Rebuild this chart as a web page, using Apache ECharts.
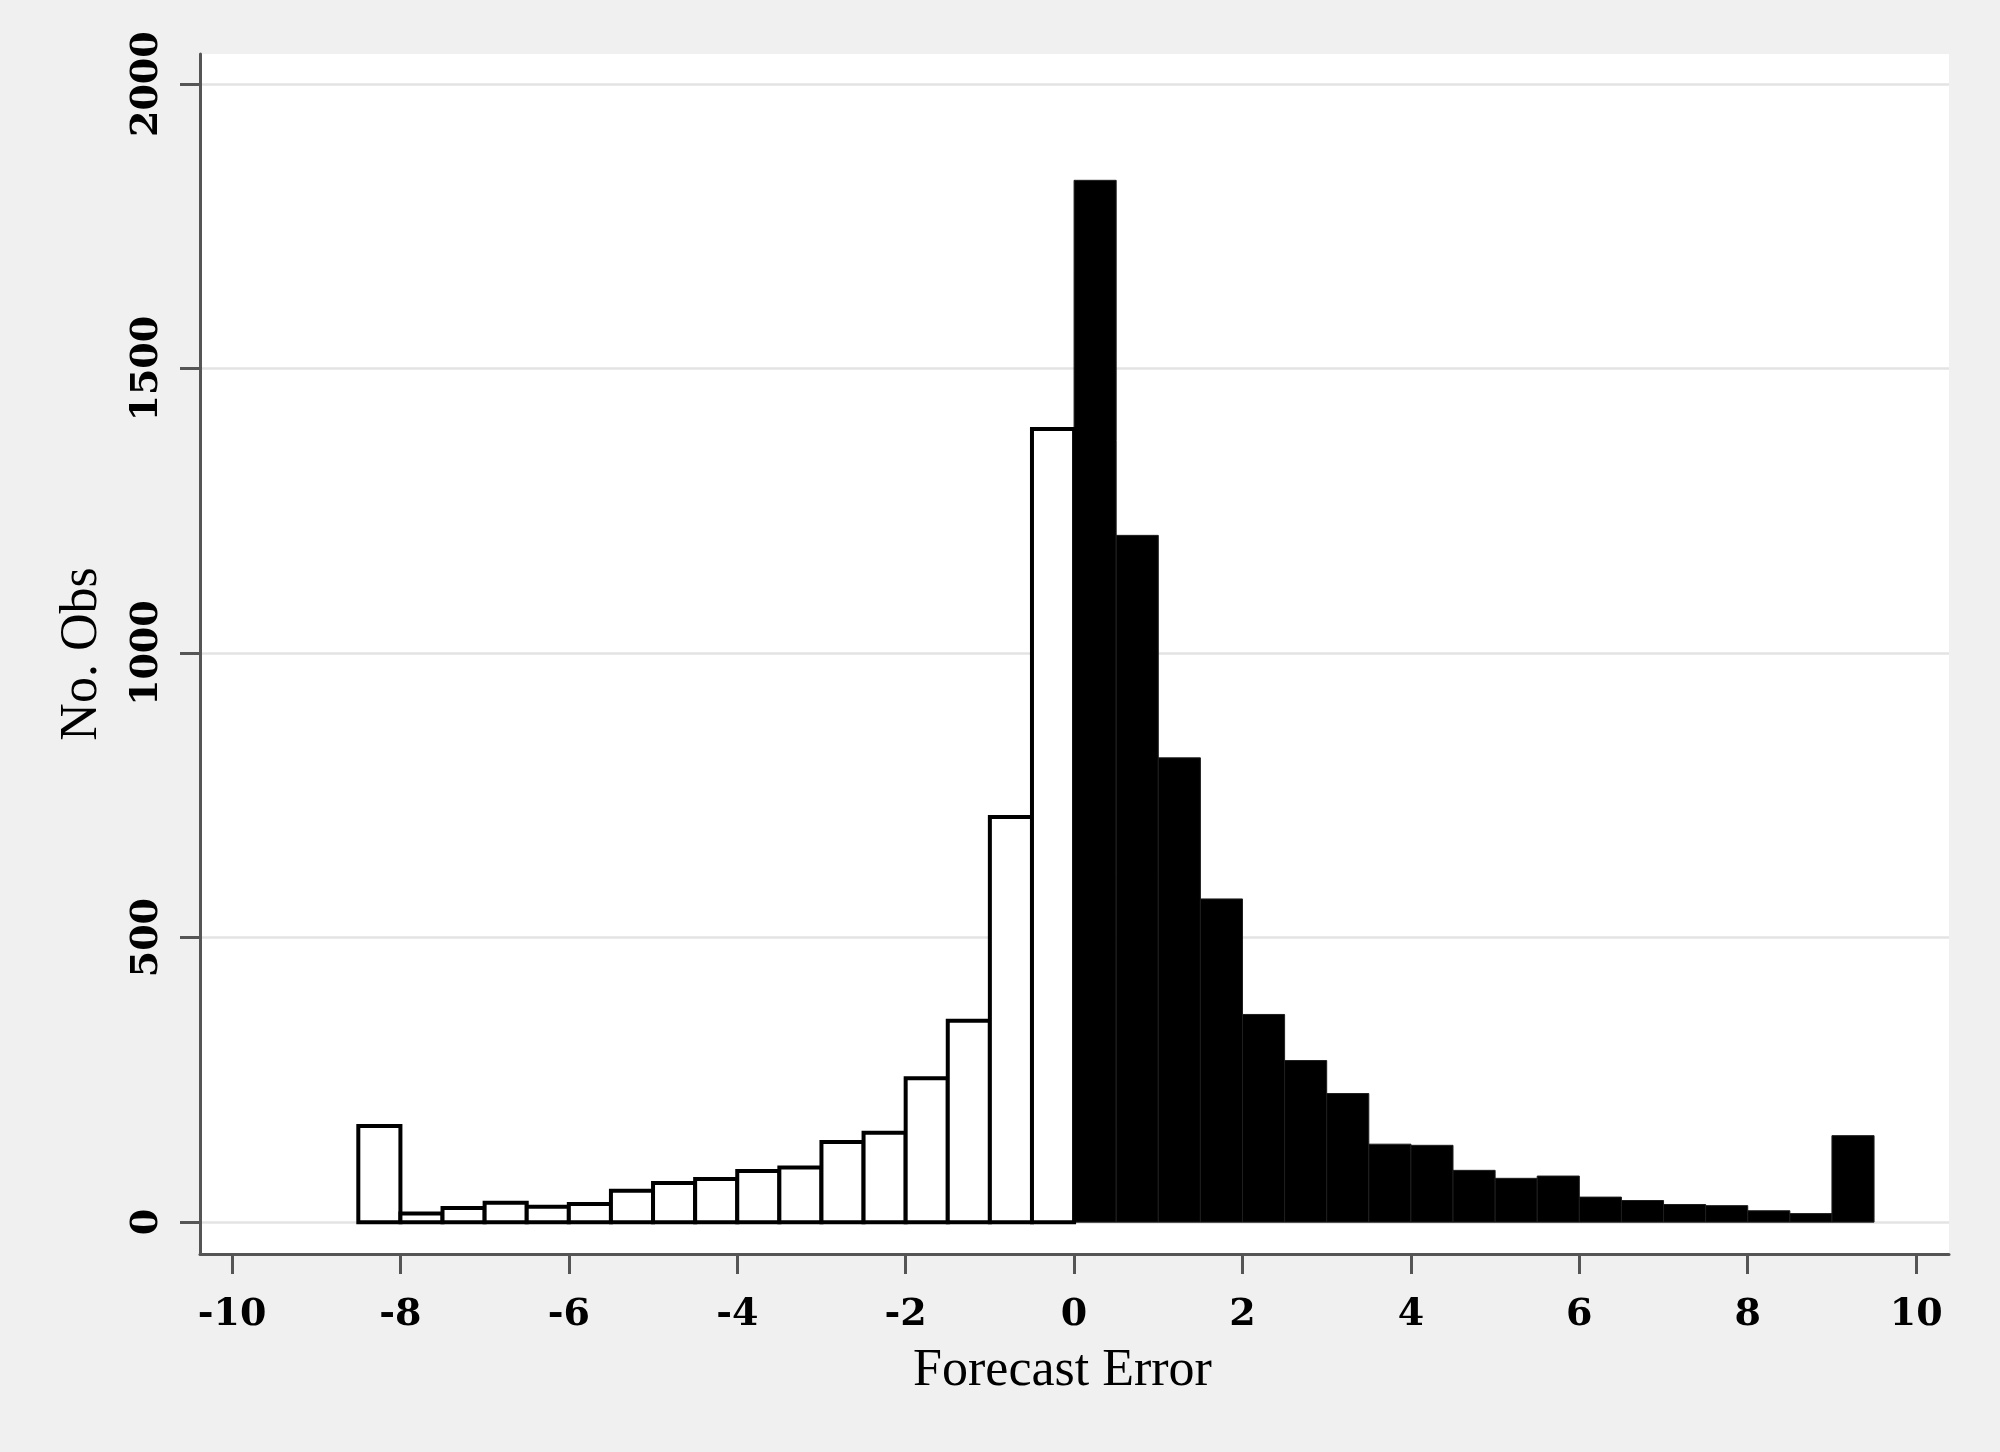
<!DOCTYPE html>
<html>
<head>
<meta charset="utf-8">
<script src="https://cdn.jsdelivr.net/npm/echarts@6/dist/echarts.min.js"></script>
<style>
html,body{margin:0;padding:0;background:#f0f0f0;}
#chart{width:2000px;height:1452px;}
</style>
</head>
<body>
<div id="chart"></div>
<script>
// Histogram bins (left edge, right edge) and counts
const negBinStart = [-8.5,-8,-7.5,-7,-6.5,-6,-5.5,-5,-4.5,-4,-3.5,-3,-2.5,-2,-1.5,-1,-0.5];
const negBinEnd   = [-8,-7.5,-7,-6.5,-6,-5.5,-5,-4.5,-4,-3.5,-3,-2.5,-2,-1.5,-1,-0.5,0];
const negCounts   = [169,15,25,34,27,32,55,69,76,90,96,141,157,253,354,712,1394];

const posBinStart = [0,0.5,1,1.5,2,2.5,3,3.5,4,4.5,5,5.5,6,6.5,7,7.5,8,8.5,9];
const posBinEnd   = [0.5,1,1.5,2,2.5,3,3.5,4,4.5,5,5.5,6,6.5,7,7.5,8,8.5,9,9.5];
const posCounts   = [1831,1207,816,568,365,284,226,137,135,91,77,81,44,38,31,29,20,15,152];

const xTicks = [-10,-8,-6,-4,-2,0,2,4,6,8,10];
const yTicks = [0,500,1000,1500,2000];

const xTitle = 'Forecast Error';
const yTitle = 'No. Obs';

function makeData(starts, ends, counts) {
  return starts.map((s, i) => [s, ends[i], counts[i]]);
}

function barRenderer(fill, stroke, lw) {
  return function (params, api) {
    const x0 = api.value(0), x1 = api.value(1), v = api.value(2);
    const pTop = api.coord([x0, v]);
    const pBot = api.coord([x1, 0]);
    return {
      type: 'rect',
      shape: { x: pTop[0], y: pTop[1], width: pBot[0] - pTop[0], height: pBot[1] - pTop[1] },
      style: { fill: fill, stroke: stroke, lineWidth: lw }
    };
  };
}

const chart = echarts.init(document.getElementById('chart'), null, { renderer: 'canvas' });
const axisColor = '#555555';
const labelFont = 'DejaVu Serif';
const titleFont = 'Liberation Serif';

chart.setOption({
  backgroundColor: '#f0f0f0',
  animation: false,
  grid: {
    left: 200, right: 51, top: 54, bottom: 198,
    show: true, backgroundColor: '#ffffff', borderWidth: 0
  },
  xAxis: {
    type: 'value',
    min: -10.38, max: 10.39,
    axisLine: { show: true, onZero: false, lineStyle: { color: axisColor, width: 3 } },
    axisTick: { show: true, length: 20, lineStyle: { color: axisColor, width: 3 }, customValues: xTicks },
    axisLabel: {
      customValues: xTicks, margin: 42,
      fontFamily: labelFont, fontWeight: 'bold', fontSize: 38, color: '#000',
      formatter: v => String(v)
    },
    splitLine: { show: false },
    name: xTitle, nameLocation: 'middle', nameGap: 91,
    nameTextStyle: { fontFamily: titleFont, fontWeight: 'normal', fontSize: 52, color: '#000', padding: [0, 24, 0, 0] }
  },
  yAxis: {
    type: 'value',
    min: -56, max: 2053,
    axisLine: { show: true, onZero: false, lineStyle: { color: axisColor, width: 3 } },
    axisTick: { show: true, length: 20, lineStyle: { color: axisColor, width: 3 }, customValues: yTicks },
    axisLabel: {
      customValues: yTicks, rotate: 90, margin: 34,
      fontFamily: labelFont, fontWeight: 'bold', fontSize: 38, color: '#000',
      formatter: v => String(v)
    },
    splitLine: { show: true, lineStyle: { color: '#e3e3e3', width: 2.5 } },
    name: yTitle, nameLocation: 'middle', nameGap: 92, nameRotate: 90,
    nameTextStyle: { fontFamily: titleFont, fontWeight: 'normal', fontSize: 52, color: '#000' }
  },
  series: [
    {
      type: 'custom',
      name: 'positive',
      renderItem: barRenderer('#000000', '#1e1e1e', 1),
      encode: { x: [0, 1], y: 2 },
      data: makeData(posBinStart, posBinEnd, posCounts)
    },
    {
      type: 'custom',
      name: 'negative',
      renderItem: barRenderer('#ffffff', '#000000', 4),
      encode: { x: [0, 1], y: 2 },
      data: makeData(negBinStart, negBinEnd, negCounts)
    }
  ]
});
</script>
</body>
</html>
